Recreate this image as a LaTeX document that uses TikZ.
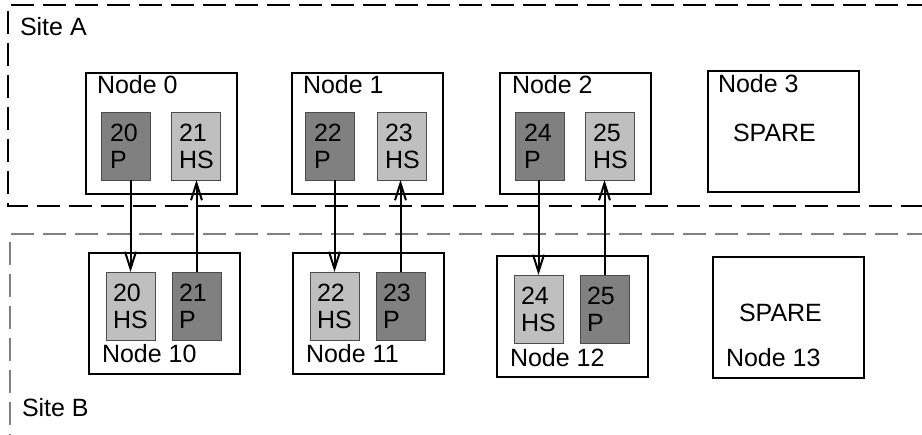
\documentclass[tikz,border=0pt]{standalone}
\usepackage{fontspec}
\setmainfont{Liberation Sans}
\usetikzlibrary{arrows.meta,calc}
\definecolor{primfill}{gray}{0.5}
\definecolor{hsfill}{gray}{0.75}
\definecolor{cellline}{gray}{0.3}
\definecolor{siteBline}{gray}{0.5}
\begin{document}
\begin{tikzpicture}[x=1pt,y=-1pt,
  every node/.style={font=\fontsize{25}{26.5}\selectfont, inner sep=0pt, outer sep=0pt},
  site/.style={line width=1.2pt, dash pattern=on 23pt off 9pt},
  nodebox/.style={draw=black, line width=2pt, minimum width=151pt, minimum height=121pt, anchor=north west},
  cell/.style={draw=cellline, line width=0.9pt, minimum width=49pt, minimum height=68pt, anchor=north west},
  pcell/.style={cell, fill=primfill},
  hcell/.style={cell, fill=hsfill},
  txt/.style={anchor=base west, align=left},
  repl/.style={draw=black, line width=2pt, -{Straight Barb[length=17pt,width=11pt]}}
]
\useasboundingbox (0,0) rectangle (922,435);

% Site boundaries
\draw[site, black] (930,5) -- (8,5) -- (8,206) -- (930,206);
\draw[site, siteBline] (930,234) -- (10,234) -- (10,440);
\node[txt] (siteA) at (20,36) {Site A};
\node[txt] (siteB) at (22,417) {Site B};

% Site A nodes
\node[nodebox] (n0) at (86,73) {};
\node[nodebox] (n1) at (292,73) {};
\node[nodebox] (n2) at (500,73) {};
\node[nodebox] (n3) at (708,71) {};
\node[txt] (n0l) at (97,94) {Node 0};
\node[txt] (n1l) at (303,94) {Node 1};
\node[txt] (n2l) at (512,94) {Node 2};
\node[txt] (n3l) at (718,93) {Node 3};
\node[txt] (n3s) at (733,142) {SPARE};

\node[pcell] (t20) at (101,112) {};
\node[hcell] (t21) at (171,112) {};
\node[pcell] (t22) at (305,112) {};
\node[hcell] (t23) at (377,112) {};
\node[pcell] (t24) at (515,112) {};
\node[hcell] (t25) at (585,112) {};
% two-line labels: the base anchor sits on the second line
\node[txt] at ($(t20.north west)+(9,56.5)$) {20\\P};
\node[txt] at ($(t21.north west)+(8,56.5)$) {21\\HS};
\node[txt] at ($(t22.north west)+(9,56.5)$) {22\\P};
\node[txt] at ($(t23.north west)+(8,56.5)$) {23\\HS};
\node[txt] at ($(t24.north west)+(9,56.5)$) {24\\P};
\node[txt] at ($(t25.north west)+(8,56.5)$) {25\\HS};

% Site B nodes
\node[nodebox] (n10) at (89,253) {};
\node[nodebox] (n11) at (293,253) {};
\node[nodebox] (n12) at (497,256) {};
\node[nodebox] (n13) at (713,257) {};
\node[txt] (n10l) at (102,363) {Node 10};
\node[txt] (n11l) at (306,363) {Node 11};
\node[txt] (n12l) at (510,367) {Node 12};
\node[txt] (n13l) at (726,367) {Node 13};
\node[txt] (n13s) at (739,322) {SPARE};

\node[hcell] (b20) at (106,272) {};
\node[pcell] (b21) at (172,272) {};
\node[hcell] (b22) at (310,272) {};
\node[pcell] (b23) at (376,272) {};
\node[hcell] (b24) at (514,275) {};
\node[pcell] (b25) at (580,275) {};
\node[txt] at ($(b20.north west)+(7,56.5)$) {20\\HS};
\node[txt] at ($(b21.north west)+(7,56.5)$) {21\\P};
\node[txt] at ($(b22.north west)+(7,56.5)$) {22\\HS};
\node[txt] at ($(b23.north west)+(7,56.5)$) {23\\P};
\node[txt] at ($(b24.north west)+(7,56.5)$) {24\\HS};
\node[txt] at ($(b25.north west)+(7,56.5)$) {25\\P};

% Replication links: primary to hot standby
\draw[repl] (t20.south -| b20.north) -- (b20.north);
\draw[repl] (b21.north) -- (b21.north |- t21.south);
\draw[repl] (t22.south -| b22.north) -- (b22.north);
\draw[repl] (b23.north) -- (b23.north |- t23.south);
\draw[repl] (t24.south -| b24.north) -- (b24.north);
\draw[repl] (b25.north) -- (b25.north |- t25.south);
\end{tikzpicture}
\end{document}
